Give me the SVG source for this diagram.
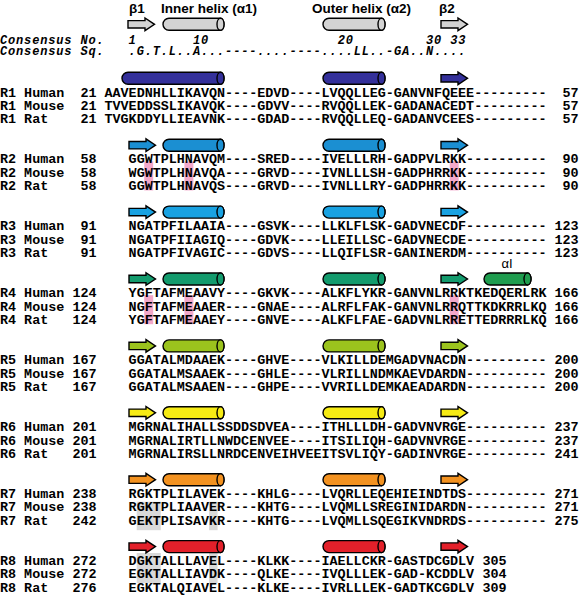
<svg xmlns="http://www.w3.org/2000/svg" xmlns:xlink="http://www.w3.org/1999/xlink" width="579" height="597" viewBox="0 0 579 597">
<style>
.t{font-family:"Liberation Mono","Courier New",monospace;font-size:13.4px;font-weight:bold;fill:#000}
.e{text-anchor:end}
.h{font-family:"Liberation Sans",Arial,sans-serif;font-weight:bold;font-size:13.5px;fill:#000}
.c{font-family:"Liberation Mono","Courier New",monospace;font-style:italic;font-weight:bold;font-size:12px;letter-spacing:0.84px;fill:#000}
.s{stroke:#000;stroke-width:1.4;stroke-linejoin:miter}
.pk{fill:#f3a8ca}
.gy{fill:#d9d9d9}
</style>
<defs>
<path id="ar" d="M0,-3.7H17V-6.3L26.5,0L17,6.3V3.7H0Z"/>
<g id="cy1"><path d="M169,-6H220.5A3.5,6 0 0 1 220.5,6H169A6,6 0 0 1 169,-6Z"/><ellipse cx="220.5" cy="0" rx="3.5" ry="6"/></g>
<g id="cy1L"><path d="M128,-6H220.5A3.5,6 0 0 1 220.5,6H128A6,6 0 0 1 128,-6Z"/><ellipse cx="220.5" cy="0" rx="3.5" ry="6"/></g>
<g id="cy2"><path d="M329,-6H381.5A3.5,6 0 0 1 381.5,6H329A6,6 0 0 1 329,-6Z"/><ellipse cx="381.5" cy="0" rx="3.5" ry="6"/></g>
<g id="cyI"><path d="M490,-6H527.5A3.5,6 0 0 1 527.5,6H490A6,6 0 0 1 490,-6Z"/><ellipse cx="527.5" cy="0" rx="3.5" ry="6"/></g>
</defs>

<g id="header">
<text class="h" x="129" y="13">β1</text>
<text class="h" x="161" y="13">Inner helix (α1)</text>
<text class="h" x="312" y="13">Outer helix (α2)</text>
<text class="h" x="439" y="13">β2</text>
<g class="s" fill="#d3d3d3">
<use xlink:href="#ar" x="128" y="24.3"/>
<use xlink:href="#cy1" y="24.3"/>
<use xlink:href="#cy2" y="24.3"/>
<use xlink:href="#ar" x="441" y="24.3"/>
</g>
<text class="c" x="0" y="44">Consensus No.</text>
<text class="c" x="128.6" y="44">1</text>
<text class="c" x="193" y="44">10</text>
<text class="c" x="337.7" y="44">20</text>
<text class="c" x="426" y="44">30</text>
<text class="c" x="450.2" y="44">33</text>
<text class="c" x="0" y="54.8">Consensus Sq.</text>
<text class="c" x="128.6" y="54.8">.G.T.L..A...----....----....LL..-GA..N....</text>
</g>

<g id="R1">
<g class="s" fill="#34309a">
<use xlink:href="#cy1L" y="78.3"/>
<use xlink:href="#cy2" y="78.3"/>
<use xlink:href="#ar" x="441" y="78.3"/>
</g>
<text class="t" x="0" y="96.6">R1 Human</text><text class="t e" x="96.5" y="96.6">21</text><text class="t" x="104.5" y="96.6">AAVEDNHLLIKAVQN----EDVD----LVQQLLEG-GANVNFQEEE---------</text><text class="t e" x="578.5" y="96.6">57</text>
<text class="t" x="0" y="110">R1 Mouse</text><text class="t e" x="96.5" y="110">21</text><text class="t" x="104.5" y="110">TVVEDDSSLIKAVQK----GDVV----RVQQLLEK-GADANACEDT---------</text><text class="t e" x="578.5" y="110">57</text>
<text class="t" x="0" y="123.3">R1 Rat</text><text class="t e" x="96.5" y="123.3">21</text><text class="t" x="104.5" y="123.3">TVGKDDYLLIEAVNK----GDAD----RVQQLLEQ-GADANVCEES---------</text><text class="t e" x="578.5" y="123.3">57</text>
</g>

<g id="R2" transform="translate(0,66.9)">
<rect class="pk" x="144.2" y="94.5" width="9" height="29"/>
<rect class="pk" x="184.4" y="94.5" width="9" height="29"/>
<rect class="pk" x="449.7" y="94.5" width="9" height="29"/>
<g class="s" fill="#1b8fd2">
<use xlink:href="#ar" x="129" y="78.3"/>
<use xlink:href="#cy1" y="78.3"/>
<use xlink:href="#cy2" y="78.3"/>
<use xlink:href="#ar" x="441" y="78.3"/>
</g>
<text class="t" x="0" y="96.6">R2 Human</text><text class="t e" x="96.5" y="96.6">58</text><text class="t" x="128.6" y="96.6">GGWTPLHNAVQM----SRED----IVELLLRH-GADPVLRKK----------</text><text class="t e" x="578.5" y="96.6">90</text>
<text class="t" x="0" y="110">R2 Mouse</text><text class="t e" x="96.5" y="110">58</text><text class="t" x="128.6" y="110">WGWTPLHNAVQA----GRVD----IVNLLLSH-GADPHRRKK----------</text><text class="t e" x="578.5" y="110">90</text>
<text class="t" x="0" y="123.3">R2 Rat</text><text class="t e" x="96.5" y="123.3">58</text><text class="t" x="128.6" y="123.3">GGWTPLHNAVQS----GRVD----IVNLLLRY-GADPHRRKK----------</text><text class="t e" x="578.5" y="123.3">90</text>
</g>

<g id="R3" transform="translate(0,133.8)">
<g class="s" fill="#19a2e2">
<use xlink:href="#ar" x="129" y="78.3"/>
<use xlink:href="#cy1" y="78.3"/>
<use xlink:href="#cy2" y="78.3"/>
<use xlink:href="#ar" x="441" y="78.3"/>
</g>
<text class="t" x="0" y="96.6">R3 Human</text><text class="t e" x="96.5" y="96.6">91</text><text class="t" x="128.6" y="96.6">NGATPFILAAIA----GSVK----LLKLFLSK-GADVNECDF----------</text><text class="t e" x="578.5" y="96.6">123</text>
<text class="t" x="0" y="110">R3 Mouse</text><text class="t e" x="96.5" y="110">91</text><text class="t" x="128.6" y="110">NGATPFIIAGIQ----GDVK----LLEILLSC-GADVNECDE----------</text><text class="t e" x="578.5" y="110">123</text>
<text class="t" x="0" y="123.3">R3 Rat</text><text class="t e" x="96.5" y="123.3">91</text><text class="t" x="128.6" y="123.3">NGATPFIVAGIC----GDVS----LLQIFLSR-GANINERDM----------</text><text class="t e" x="578.5" y="123.3">123</text>
</g>

<g id="R4" transform="translate(0,200.7)">
<rect class="pk" x="144.2" y="94.5" width="9" height="29"/>
<rect class="pk" x="184.4" y="94.5" width="9" height="29"/>
<rect class="pk" x="449.7" y="94.5" width="9" height="29"/>
<g class="s" fill="#139b6d">
<use xlink:href="#ar" x="129" y="78.3"/>
<use xlink:href="#cy1" y="78.3"/>
<use xlink:href="#cy2" y="78.3"/>
<use xlink:href="#ar" x="441" y="78.3"/>
</g>
<use xlink:href="#cyI" y="78.3" class="s" fill="#1f9d4f"/>
<text class="h" x="501.5" y="67.5" style="font-weight:normal;font-size:13px">αI</text>
<text class="t" x="0" y="96.6">R4 Human</text><text class="t e" x="96.5" y="96.6">124</text><text class="t" x="128.6" y="96.6">YGFTAFMEAAVY----GKVK----ALKFLYKR-GANVNLRRKTKEDQERLRK</text><text class="t e" x="578.5" y="96.6">166</text>
<text class="t" x="0" y="110">R4 Mouse</text><text class="t e" x="96.5" y="110">124</text><text class="t" x="128.6" y="110">NGFTAFMEAAER----GNAE----ALRFLFAK-GANVNLRRQTTKDKRRLKQ</text><text class="t e" x="578.5" y="110">166</text>
<text class="t" x="0" y="123.3">R4 Rat</text><text class="t e" x="96.5" y="123.3">124</text><text class="t" x="128.6" y="123.3">YGFTAFMEAAEY----GNVE----ALKFLFAE-GADVNLRRETTEDRRRLKQ</text><text class="t e" x="578.5" y="123.3">166</text>
</g>

<g id="R5" transform="translate(0,267.6)">
<g class="s" fill="#9bc31d">
<use xlink:href="#ar" x="129" y="78.3"/>
<use xlink:href="#cy1" y="78.3"/>
<use xlink:href="#cy2" y="78.3"/>
<use xlink:href="#ar" x="441" y="78.3"/>
</g>
<text class="t" x="0" y="96.6">R5 Human</text><text class="t e" x="96.5" y="96.6">167</text><text class="t" x="128.6" y="96.6">GGATALMDAAEK----GHVE----VLKILLDEMGADVNACDN----------</text><text class="t e" x="578.5" y="96.6">200</text>
<text class="t" x="0" y="110">R5 Mouse</text><text class="t e" x="96.5" y="110">167</text><text class="t" x="128.6" y="110">GGATALMSAAEK----GHLE----VLRILLNDMKAEVDARDN----------</text><text class="t e" x="578.5" y="110">200</text>
<text class="t" x="0" y="123.3">R5 Rat</text><text class="t e" x="96.5" y="123.3">167</text><text class="t" x="128.6" y="123.3">GGATALMSAAEN----GHPE----VVRILLDEMKAEADARDN----------</text><text class="t e" x="578.5" y="123.3">200</text>
</g>

<g id="R6" transform="translate(0,334.5)">
<g class="s" fill="#f6eb14">
<use xlink:href="#ar" x="129" y="78.3"/>
<use xlink:href="#cy1" y="78.3"/>
<use xlink:href="#cy2" y="78.3"/>
<use xlink:href="#ar" x="441" y="78.3"/>
</g>
<text class="t" x="0" y="96.6">R6 Human</text><text class="t e" x="96.5" y="96.6">201</text><text class="t" x="128.6" y="96.6">MGRNALIHALLSSDDSDVEA----ITHLLLDH-GADVNVRGE----------</text><text class="t e" x="578.5" y="96.6">237</text>
<text class="t" x="0" y="110">R6 Mouse</text><text class="t e" x="96.5" y="110">201</text><text class="t" x="128.6" y="110">MGRNALIRTLLNWDCENVEE----ITSILIQH-GADVNVRGE----------</text><text class="t e" x="578.5" y="110">237</text>
<text class="t" x="0" y="123.3">R6 Rat</text><text class="t e" x="96.5" y="123.3">201</text><text class="t" x="128.6" y="123.3">MGRNALIRSLLNRDCENVEIHVEEITSVLIQY-GADINVRGE----------</text><text class="t e" x="578.5" y="123.3">241</text>
</g>

<g id="R7" transform="translate(0,401.4)">
<rect class="gy" x="136.7" y="100.3" width="24.1" height="28.5"/>
<rect class="gy" x="209" y="100.3" width="8.6" height="28.5"/>
<g class="s" fill="#f39220">
<use xlink:href="#ar" x="129" y="78.3"/>
<use xlink:href="#cy1" y="78.3"/>
<use xlink:href="#cy2" y="78.3"/>
<use xlink:href="#ar" x="441" y="78.3"/>
</g>
<text class="t" x="0" y="96.6">R7 Human</text><text class="t e" x="96.5" y="96.6">238</text><text class="t" x="128.6" y="96.6">RGKTPLILAVEK----KHLG----LVQRLLEQEHIEINDTDS----------</text><text class="t e" x="578.5" y="96.6">271</text>
<text class="t" x="0" y="110">R7 Mouse</text><text class="t e" x="96.5" y="110">238</text><text class="t" x="128.6" y="110">RGKTPLIAAVER----KHTG----LVQMLLSREGINIDARDN----------</text><text class="t e" x="578.5" y="110">271</text>
<text class="t" x="0" y="123.3">R7 Rat</text><text class="t e" x="96.5" y="123.3">242</text><text class="t" x="128.6" y="123.3">GEKTPLISAVKR----KHTG----LVQMLLSQEGIKVNDRDS----------</text><text class="t e" x="578.5" y="123.3">275</text>
</g>

<g id="R8" transform="translate(0,468.3)">
<rect class="gy" x="136.7" y="84.7" width="24.1" height="30"/>
<rect class="gy" x="209" y="84.7" width="8.6" height="30"/>
<g class="s" fill="#e3202a">
<use xlink:href="#ar" x="129" y="78.3"/>
<use xlink:href="#cy1" y="78.3"/>
<use xlink:href="#cy2" y="78.3"/>
<use xlink:href="#ar" x="441" y="78.3"/>
</g>
<text class="t" x="0" y="96.6">R8 Human</text><text class="t e" x="96.5" y="96.6">272</text><text class="t" x="128.6" y="96.6">DGKTALLLAVEL----KLKK----IAELLCKR-GASTDCGDLV</text><text class="t" x="482.4" y="96.6">305</text>
<text class="t" x="0" y="110">R8 Mouse</text><text class="t e" x="96.5" y="110">272</text><text class="t" x="128.6" y="110">EGKTALLIAVDK----QLKE----IVQLLLEK-GAD-KCDDLV</text><text class="t" x="482.4" y="110">304</text>
<text class="t" x="0" y="123.3">R8 Rat</text><text class="t e" x="96.5" y="123.3">276</text><text class="t" x="128.6" y="123.3">EGKTALQIAVEL----KLKE----IVRLLLEK-GADTKCGDLV</text><text class="t" x="482.4" y="123.3">309</text>
</g>
</svg>
